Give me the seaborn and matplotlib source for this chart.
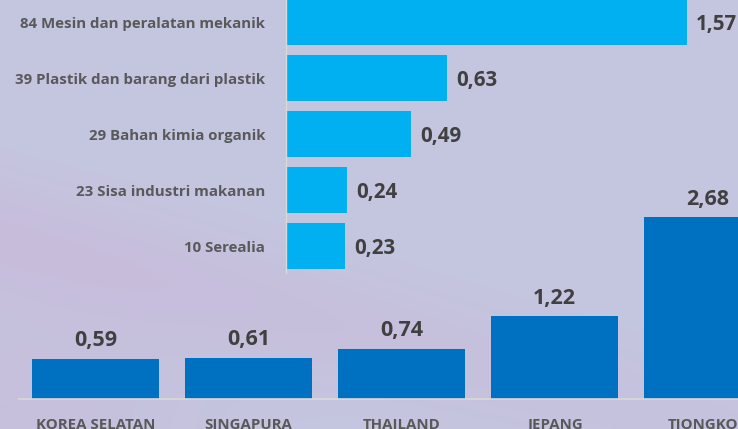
import numpy as np
import matplotlib.pyplot as plt
import seaborn as sns

# Data: top products (horizontal) and destination countries (vertical)
produk = [
    '84 Mesin dan peralatan mekanik',
    '39 Plastik dan barang dari plastik',
    '29 Bahan kimia organik',
    '23 Sisa industri makanan',
    '10 Serealia',
]
nilai_produk = [1.57, 0.63, 0.49, 0.24, 0.23]

negara = ['KOREA SELATAN', 'SINGAPURA', 'THAILAND', 'JEPANG', 'TIONGKOK']
nilai_negara = [0.59, 0.61, 0.74, 1.22, 2.68]

plt.rcParams['font.family'] = ['Open Sans', 'DejaVu Sans']

W, H = 738, 429
fig = plt.figure(figsize=(W / 100, H / 100), dpi=100)

# Soft lavender background
bg = fig.add_axes([0, 0, 1, 1], zorder=-1)
yy, xx = np.mgrid[0:1:200j, 0:1:340j]
base = np.array([196, 198, 224]) / 255
pink = np.array([200, 188, 219]) / 255
band = np.exp(-((yy - 0.55 - 0.45 * xx) ** 2) / 0.02) * (1 - 0.6 * xx)
corner = np.exp(-((xx - 0.0) ** 2 + (yy - 0.95) ** 2) / 0.08)
w = np.clip(0.8 * band + 0.6 * corner, 0, 1)[..., None]
img = base * (1 - w) + pink * w
bg.imshow(img, extent=[0, 1, 0, 1], aspect='auto', origin='upper')
bg.axis('off')

fmt = lambda v: f'{v:.2f}'.replace('.', ',')

# Top: horizontal bars
ax1 = fig.add_axes([286 / W, (H - 273) / H, 452 / W, 273 / H])
ax1.set_facecolor('none')
sns.barplot(x=nilai_produk, y=produk, color='#00B0F0', saturation=1,
            width=46 / 56, ax=ax1)
ax1.set_xlim(0, 452 / 255.4)
ax1.set_ylim(4 + 27 / 56, -22 / 56)
for s in ['top', 'right', 'bottom']:
    ax1.spines[s].set_visible(False)
ax1.spines['left'].set_color('#D9D9D9')
ax1.spines['left'].set_linewidth(1)
ax1.set_xticks([])
ax1.set_yticks(range(len(produk)), produk, fontweight='bold', fontsize=10.8,
               color='#595959')
ax1.set_xlabel('')
ax1.set_ylabel('')
ax1.tick_params(axis='y', length=0, pad=15)
for i, v in enumerate(nilai_produk):
    ax1.annotate(fmt(v), xy=(v, i), xytext=(6.5, -1.5), textcoords='offset points',
                 ha='left', va='center', fontsize=14.8, fontweight='bold',
                 color='#404040')

# Bottom: vertical bars
ax2 = fig.add_axes([19 / W, 30 / H, (W - 19) / W, 200 / H])
ax2.set_facecolor('none')
sns.barplot(x=negara, y=nilai_negara, color='#0070C0', saturation=1,
            width=127 / 153, ax=ax2)
ax2.set_xlim(-0.5, 4 + 30.5 / 153)
ax2.set_ylim(0, 200 / 67.8)
for s in ['top', 'right', 'left']:
    ax2.spines[s].set_visible(False)
ax2.spines['bottom'].set_color('#D9D9D9')
ax2.spines['bottom'].set_linewidth(1.2)
ax2.set_yticks([])
ax2.set_xticks(range(len(negara)), negara, fontweight='bold', fontsize=10.8,
               color='#595959')
ax2.set_xlabel('')
ax2.set_ylabel('')
ax2.tick_params(axis='x', length=0, pad=13.5)
for i, v in enumerate(nilai_negara):
    ax2.annotate(fmt(v), xy=(i, v), xytext=(0, 13), textcoords='offset points',
                 ha='center', va='center', fontsize=15.5, fontweight='bold',
                 color='#404040')

fig.savefig('out.png', dpi=100)
